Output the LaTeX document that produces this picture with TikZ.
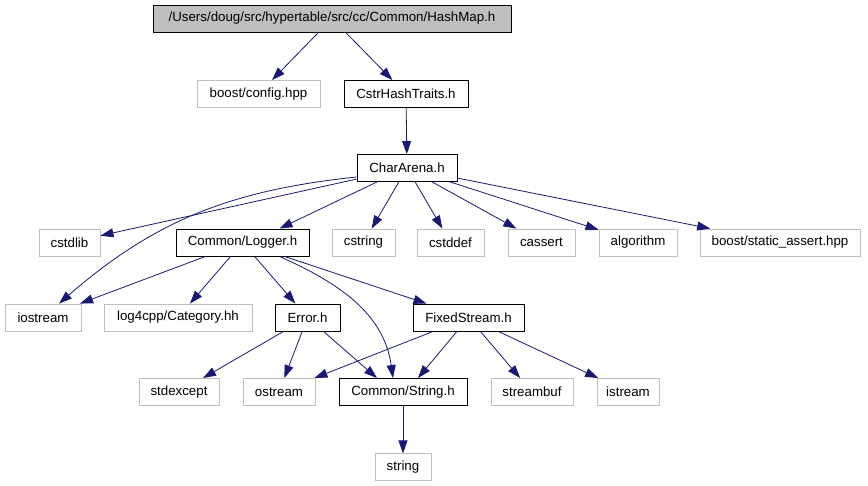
\documentclass[tikz,border=0pt]{standalone}
\usepackage{fontspec}
\setmainfont{Liberation Sans}
\usetikzlibrary{arrows.meta,positioning}
\definecolor{edgeBlue}{HTML}{191970}
\definecolor{extGray}{HTML}{BFBFBF}
\tikzset{
    graphBox/.style={
        draw=black,
        line width=0.9pt,
        inner sep=0pt,
        minimum height=27pt,
        font=\fontsize{13.3}{15}\selectfont
    },
    graphExt/.style={
        graphBox,
        draw=extGray
    },
    graphRoot/.style={
        graphBox,
        fill=extGray
    },
    graphArrow/.style={
        -{Triangle[length=13pt,width=9pt]},
        draw=edgeBlue,
        line width=0.8pt
    }
}

\begin{document}
\begin{tikzpicture}[x=1pt,y=-1pt]
        \fill[white] (0,0) rectangle (868,485);
        \useasboundingbox (0,0) rectangle (868,485);

        \node[graphRoot,minimum width=358pt] (hashmap) at (332,18.5) {/Users/doug/src/hypertable/src/cc/Common/HashMap.h};
        \node[graphExt,minimum width=123pt] (config) at (258.5,94) {boost/config.hpp};
        \node[graphBox,minimum width=124pt] (cstrhash) at (406,94) {CstrHashTraits.h};
        \node[graphBox,minimum width=100pt] (chararena) at (407,168) {CharArena.h};

        \draw[graphArrow] (hashmap) -- (config);
        \draw[graphArrow] (hashmap) -- (cstrhash);
        \draw[graphArrow] (cstrhash) -- (chararena);

        \node[graphExt,minimum width=61pt] (cstdlib) at (69.5,242.5) {cstdlib};
        \node[graphBox,minimum width=133pt] (logger) at (242.5,242.5) {Common/Logger.h};
        \node[graphExt,minimum width=63pt] (cstring) at (363.5,242.5) {cstring};
        \node[graphExt,minimum width=67pt] (cstddef) at (450.5,242.5) {cstddef};
        \node[graphExt,minimum width=67pt] (cassert) at (541.5,242.5) {cassert};
        \node[graphExt,minimum width=78pt] (algorithm) at (638,242.5) {algorithm};
        \node[graphExt,minimum width=160pt] (staticassert) at (780,242.5) {boost/static\_assert.hpp};

        \node[graphExt,minimum width=76pt] (iostream) at (43,317.5) {iostream};
        \node[graphExt,minimum width=148pt] (category) at (178,317.5) {log4cpp/Category.hh};
        \node[graphBox,minimum width=65pt] (error) at (307.5,317.5) {Error.h};
        \node[graphBox,minimum width=111pt] (fixedstream) at (468.5,317.5) {FixedStream.h};

        \draw[graphArrow] (chararena) -- (cstdlib);
        \draw[graphArrow] ([yshift=-9pt]chararena.west) to[out=186,in=41] (iostream);
        \draw[graphArrow] ([xshift=-30pt]chararena.south) -- ([xshift=37pt]logger.north);
        \draw[graphArrow] (chararena) -- (cstring);
        \draw[graphArrow] (chararena) -- (cstddef);
        \draw[graphArrow] (chararena) -- (cassert);
        \draw[graphArrow] (chararena) -- (algorithm);
        \draw[graphArrow] (chararena) -- (staticassert);

        \node[graphExt,minimum width=80pt] (stdexcept) at (179,392) {stdexcept};
        \node[graphExt,minimum width=72pt] (ostream) at (279,392) {ostream};
        \node[graphBox,minimum width=128pt] (stringh) at (403,392) {Common/String.h};
        \node[graphExt,minimum width=82pt] (streambuf) at (532,392) {streambuf};
        \node[graphExt,minimum width=62pt] (istream) at (628,392) {istream};
        \node[graphExt,minimum width=56pt,below=47.5pt of stringh] (string) {string};

        \draw[graphArrow] (logger) -- (iostream);
        \draw[graphArrow] (logger) -- (category);
        \draw[graphArrow] (logger) -- (error);
        \draw[graphArrow] (logger) -- (fixedstream);
        \draw[graphArrow] ([xshift=37pt]logger.south) to[out=-24,in=98] ([xshift=-10pt]stringh.north);

        \draw[graphArrow] (error) -- (stdexcept);
        \draw[graphArrow] (error) -- (ostream);
        \draw[graphArrow] (error) -- ([xshift=-26pt]stringh.north);

        \draw[graphArrow] (fixedstream) -- (ostream);
        \draw[graphArrow] (fixedstream) -- ([xshift=15pt]stringh.north);
        \draw[graphArrow] (fixedstream) -- (streambuf);
        \draw[graphArrow] (fixedstream) -- (istream);

        \draw[graphArrow] (stringh) -- (string);
    \end{tikzpicture}
\end{document}
